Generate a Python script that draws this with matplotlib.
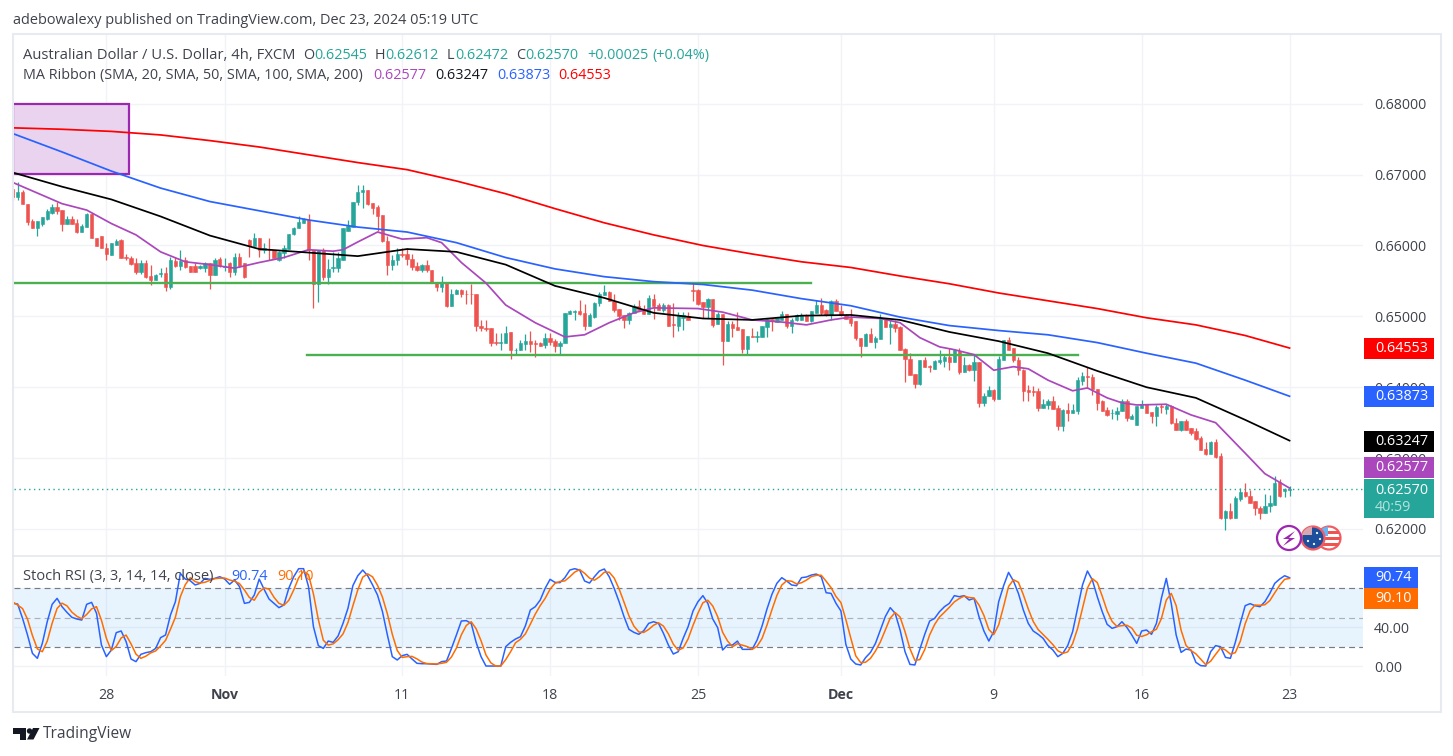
import matplotlib
matplotlib.use("Agg")
import matplotlib.pyplot as plt
from matplotlib.patches import Circle, Polygon, Rectangle

plt.rcParams['font.family'] = ['Open Sans', 'DejaVu Sans']

# 4h candles, oldest first
opens = [
    .6680, .6669, .6676, .6658, .6635, .6625, .6631, .6638, .6646, .6654,
    .6650, .6630, .6638, .6632, .6619, .6626, .6645, .6611, .6613, .6597,
    .6586, .6601, .6608, .6584, .6582, .6575, .6562, .6575, .6557, .6552,
    .6560, .6561, .6542, .6578, .6571, .6579, .6571, .6571, .6568, .6568,
    .6575, .6559, .6581, .6569, .6575, .6563, .6584, .6575, .6608, .6599,
    .6611, .6593, .6594, .6593, .6580, .6590, .6595, .6616, .6624, .6632,
    .6636, .6593, .6546, .6594, .6556, .6568, .6568, .6580, .6621, .6626,
    .6661, .6675, .6678, .6660, .6654, .6643, .6607, .6573, .6579, .6588,
    .6588, .6581, .6571, .6566, .6573, .6566, .6549, .6541, .6549, .6514,
    .6531, .6537, .6532, .6532, .6532, .6487, .6483, .6483, .6464, .6463,
    .6463, .6478, .6452, .6452, .6461, .6465, .6462, .6462, .6459, .6470,
    .6465, .6458, .6463, .6503, .6506, .6507, .6505, .6487, .6499, .6519,
    .6530, .6535, .6521, .6510, .6502, .6495, .6505, .6514, .6510, .6504,
    .6525, .6516, .6509, .6516, .6489, .6486, .6498, .6500, .6537, .6537,
    .6520, .6513, .6524, .6489, .6504, .6465, .6489, .6485, .6482, .6454,
    .6473, .6471, .6471, .6485, .6496, .6492, .6495, .6503, .6487, .6495,
    .6495, .6502, .6494, .6505, .6516, .6509, .6502, .6521, .6508, .6502,
    .6498, .6493, .6470, .6458, .6475, .6464, .6468, .6496, .6485, .6489,
    .6485, .6454, .6440, .6418, .6405, .6438, .6430, .6426, .6436, .6437,
    .6443, .6436, .6451, .6422, .6432, .6425, .6435, .6378, .6387, .6396,
    .6383, .6439, .6466, .6455, .6439, .6425, .6396, .6394, .6394, .6371,
    .6375, .6381, .6371, .6346, .6368, .6363, .6367, .6409, .6416, .6414,
    .6398, .6380, .6368, .6363, .6362, .6366, .6381, .6355, .6347, .6371,
    .6376, .6365, .6359, .6373, .6370, .6374, .6350, .6340, .6352, .6342,
    .6338, .6329, .6313, .6306, .6323, .6303, .6215, .6225, .6215, .6242,
    .6252, .6247, .6239, .6230, .6222, .6232, .6234, .6266, .6254, .62545,
]
highs = [
    .6680, .6690, .6678, .6658, .6637, .6635, .6640, .6651, .6659, .6662,
    .6650, .6641, .6641, .6638, .6630, .6646, .6646, .6611, .6614, .6603,
    .6604, .6609, .6609, .6588, .6585, .6582, .6579, .6580, .6572, .6560,
    .6568, .6570, .6584, .6584, .6594, .6584, .6571, .6576, .6573, .6577,
    .6576, .6582, .6584, .6583, .6577, .6590, .6589, .6576, .6609, .6618,
    .6611, .6604, .6610, .6594, .6592, .6601, .6616, .6626, .6641, .6639,
    .6644, .6594, .6594, .6597, .6581, .6591, .6591, .6625, .6636, .6662,
    .6686, .6686, .6679, .6660, .6657, .6643, .6614, .6586, .6597, .6596,
    .6596, .6588, .6577, .6574, .6580, .6566, .6549, .6557, .6549, .6539,
    .6538, .6539, .6537, .6546, .6532, .6495, .6495, .6483, .6477, .6477,
    .6487, .6478, .6455, .6467, .6475, .6480, .6467, .6464, .6477, .6476,
    .6468, .6465, .6505, .6509, .6509, .6523, .6517, .6505, .6520, .6534,
    .6544, .6536, .6532, .6510, .6502, .6506, .6518, .6523, .6516, .6530,
    .6531, .6519, .6519, .6518, .6519, .6506, .6506, .6506, .6549, .6538,
    .6520, .6526, .6524, .6506, .6504, .6494, .6494, .6506, .6482, .6473,
    .6483, .6480, .6487, .6497, .6497, .6498, .6508, .6504, .6497, .6504,
    .6505, .6503, .6508, .6523, .6526, .6510, .6523, .6525, .6516, .6504,
    .6510, .6493, .6470, .6476, .6483, .6472, .6504, .6497, .6495, .6495,
    .6486, .6456, .6448, .6418, .6439, .6442, .6431, .6438, .6452, .6447,
    .6455, .6453, .6455, .6442, .6433, .6446, .6436, .6392, .6402, .6397,
    .6444, .6467, .6471, .6455, .6442, .6426, .6403, .6402, .6399, .6383,
    .6383, .6388, .6375, .6369, .6378, .6376, .6414, .6421, .6428, .6418,
    .6398, .6382, .6372, .6369, .6372, .6383, .6383, .6362, .6374, .6382,
    .6377, .6365, .6375, .6377, .6377, .6375, .6356, .6353, .6355, .6342,
    .6342, .6331, .6323, .6324, .6327, .6307, .6227, .6236, .6246, .6258,
    .6265, .6255, .6239, .6232, .6250, .6248, .6275, .6271, .6258, .62612,
]
lows = [
    .6664, .6664, .6658, .6629, .6625, .6613, .6628, .6636, .6645, .6645,
    .6621, .6630, .6630, .6618, .6619, .6626, .6611, .6599, .6597, .6579,
    .6586, .6601, .6583, .6579, .6572, .6560, .6560, .6554, .6544, .6552,
    .6555, .6536, .6539, .6570, .6566, .6568, .6563, .6563, .6567, .6563,
    .6539, .6559, .6570, .6564, .6556, .6558, .6570, .6554, .6584, .6599,
    .6584, .6589, .6579, .6583, .6578, .6582, .6595, .6615, .6624, .6632,
    .6579, .6512, .6520, .6551, .6546, .6563, .6563, .6580, .6621, .6626,
    .6657, .6653, .6657, .6644, .6621, .6605, .6558, .6566, .6572, .6584,
    .6573, .6565, .6564, .6563, .6563, .6549, .6536, .6534, .6513, .6514,
    .6531, .6528, .6517, .6517, .6479, .6480, .6479, .6458, .6459, .6452,
    .6463, .6440, .6445, .6452, .6453, .6450, .6443, .6458, .6455, .6459,
    .6450, .6447, .6463, .6503, .6495, .6502, .6481, .6487, .6497, .6514,
    .6530, .6521, .6506, .6495, .6484, .6489, .6505, .6507, .6504, .6504,
    .6496, .6509, .6506, .6487, .6471, .6480, .6481, .6495, .6522, .6516,
    .6498, .6497, .6485, .6489, .6432, .6465, .6471, .6481, .6449, .6447,
    .6471, .6464, .6471, .6471, .6479, .6492, .6495, .6484, .6477, .6494,
    .6495, .6494, .6492, .6505, .6502, .6500, .6495, .6507, .6501, .6496,
    .6487, .6467, .6443, .6458, .6464, .6455, .6468, .6485, .6461, .6478,
    .6452, .6408, .6417, .6399, .6403, .6429, .6422, .6426, .6433, .6428,
    .6424, .6436, .6419, .6422, .6423, .6409, .6372, .6374, .6387, .6380,
    .6383, .6439, .6453, .6435, .6417, .6380, .6381, .6387, .6366, .6371,
    .6369, .6369, .6340, .6338, .6352, .6363, .6362, .6403, .6399, .6389,
    .6368, .6367, .6359, .6355, .6354, .6366, .6352, .6355, .6347, .6371,
    .6364, .6350, .6346, .6364, .6362, .6348, .6340, .6338, .6340, .6333,
    .6326, .6311, .6305, .6306, .6300, .6214, .6199, .6214, .6215, .6240,
    .6245, .6237, .6220, .6214, .6222, .6224, .6234, .6245, .6245, .62472,
]
closes = [
    .6669, .6676, .6658, .6633, .6625, .6635, .6640, .6648, .6654, .6649,
    .6630, .6638, .6631, .6619, .6628, .6644, .6611, .6599, .6597, .6588,
    .6604, .6607, .6583, .6583, .6574, .6562, .6575, .6556, .6551, .6559,
    .6561, .6542, .6579, .6571, .6578, .6570, .6563, .6563, .6571, .6575,
    .6559, .6580, .6571, .6571, .6563, .6584, .6571, .6556, .6599, .6610,
    .6593, .6596, .6593, .6583, .6591, .6596, .6616, .6625, .6633, .6637,
    .6593, .6545, .6593, .6556, .6567, .6570, .6582, .6624, .6628, .6662,
    .6676, .6678, .6658, .6653, .6641, .6606, .6573, .6579, .6588, .6587,
    .6581, .6570, .6566, .6573, .6566, .6549, .6541, .6549, .6514, .6531,
    .6537, .6531, .6531, .6531, .6487, .6483, .6482, .6463, .6463, .6464,
    .6477, .6452, .6453, .6462, .6465, .6461, .6461, .6458, .6470, .6464,
    .6458, .6463, .6505, .6507, .6507, .6504, .6487, .6502, .6519, .6532,
    .6534, .6521, .6509, .6500, .6495, .6505, .6514, .6509, .6504, .6526,
    .6515, .6509, .6516, .6487, .6488, .6502, .6502, .6495, .6536, .6518,
    .6513, .6524, .6488, .6503, .6465, .6489, .6483, .6481, .6454, .6473,
    .6471, .6472, .6486, .6496, .6493, .6497, .6503, .6487, .6495, .6502,
    .6502, .6494, .6507, .6516, .6505, .6502, .6521, .6508, .6502, .6496,
    .6491, .6469, .6458, .6475, .6464, .6470, .6496, .6485, .6489, .6483,
    .6453, .6440, .6417, .6405, .6438, .6429, .6429, .6437, .6438, .6443,
    .6436, .6452, .6422, .6432, .6425, .6435, .6378, .6388, .6396, .6384,
    .6440, .6466, .6453, .6438, .6424, .6395, .6393, .6393, .6371, .6377,
    .6381, .6369, .6346, .6368, .6364, .6368, .6410, .6416, .6414, .6397,
    .6378, .6367, .6361, .6364, .6367, .6381, .6356, .6360, .6373, .6376,
    .6364, .6359, .6372, .6372, .6374, .6349, .6340, .6352, .6340, .6336,
    .6327, .6312, .6306, .6323, .6301, .6215, .6225, .6215, .6244, .6252,
    .6246, .6237, .6229, .6223, .6233, .6236, .6265, .6246, .6257, .62570,
]

ma_bars = [0, 10, 20, 30, 40, 50, 60, 70, 80, 90, 100, 110, 120, 130, 140, 150, 160,
           170, 180, 190, 200, 210, 220, 230, 240, 250, 259]
ma200 = [.6766, .6764, .6761, .6756, .6748, .6739, .6728, .6717, .6707, .6691, .6673, .6652, .6632,
         .6615, .6600, .6588, .6577, .6569, .6557, .6546, .6533, .6522, .6511, .6498, .6488, .6473, .64553]
ma100 = [.6758, .6732, .6705, .6681, .6662, .6649, .6636, .6626, .6619, .6604, .6583, .6567, .6556,
         .6549, .6545, .6537, .6525, .6515, .6499, .6487, .6480, .6474, .6463, .6448, .6434, .6410, .63873]
ma50 = [.6703, .6683, .6665, .6641, .6614, .6595, .6590, .6585, .6595, .6591, .6573, .6543, .6526,
        .6505, .6497, .6495, .6501, .6502, .6495, .6478, .6465, .6448, .6423, .6400, .6385, .6354, .63247]
ma20_bars = [0, 5, 10, 15, 20, 25, 30, 35, 40, 45, 50, 55, 60, 65, 67, 70, 74, 79, 84, 87, 91, 96,
             100, 106, 112, 116, 121, 126, 130, 139, 144, 150, 156, 161, 166, 170, 176, 180, 184,
             188, 191, 195, 199, 203, 206, 210, 215, 218, 222, 225, 228, 234, 239, 244, 250, 254, 259]
ma20 = [.6689, .6674, .6659, .6650, .6631, .6615, .6591, .6577, .6573, .6568, .6576, .6583, .6594,
        .6592, .6594, .6605, .6619, .6609, .6611, .6604, .6576, .6547, .6516, .6491, .6471, .6474,
        .6491, .6505, .6512, .6511, .6506, .6495, .6492, .6488, .6495, .6499, .6497, .6491, .6470,
        .6457, .6453, .6446, .6424, .6429, .6426, .6410, .6395, .6399, .6385, .6378, .6375, .6376,
        .6361, .6350, .6307, .6278, .62577]

stoch_k = [
    64.5, 63.8, 49.1, 32.1, 13.3, 8.2, 23.5, 45.7, 63.5, 69.6,
    61.1, 55.3, 50.2, 48.5, 47.4, 63.5, 65.5, 54.3, 21.8, 9.9,
    16.7, 34.5, 36.2, 25.3, 7.5, 4.8, 12.3, 14.0, 15.0, 18.4,
    29.4, 32.1, 52.6, 66.2, 95.2, 89.4, 87.7, 83.3, 85.0, 90.1,
    89.1, 90.1, 91.8, 89.4, 84.0, 88.4, 81.6, 64.5, 65.5, 73.0,
    89.4, 78.8, 68.9, 64.5, 60.1, 62.8, 79.9, 91.8, 100, 100,
    81.6, 40.6, 21.2, 18.4, 25.9, 24.6, 31.1, 44.0, 59.4, 82.6,
    92.8, 98.6, 92.8, 83.3, 73.0, 56.0, 32.1, 9.9, 6.5, 10.9,
    12.3, 7.5, 3.1, 2.7, 2.7, 2.4, 2.0, 4.8, 5.5, 18.4,
    32.1, 46.4, 46.8, 44.0, 24.6, 9.9, 0.3, 0.3, 0.3, 0.3,
    20.1, 24.6, 28.0, 30.4, 41.6, 57.7, 61.1, 67.9, 79.9, 89.1,
    86.0, 85.7, 90.8, 98.6, 100, 98.6, 87.4, 85.3, 91.8, 97.6,
    99.7, 91.8, 79.9, 66.2, 50.9, 37.9, 34.8, 32.8, 36.5, 44.0,
    45.7, 44.0, 33.8, 21.8, 12.6, 15.0, 28.7, 40.6, 56.7, 66.2,
    72.4, 64.5, 48.5, 39.6, 16.7, 21.8, 21.8, 25.9, 17.4, 17.4,
    17.4, 27.0, 41.3, 58.7, 73.7, 85.0, 90.8, 87.4, 83.3, 82.6,
    90.8, 91.5, 93.5, 94.5, 91.8, 75.4, 74.7, 64.5, 56.7, 22.5,
    7.5, 2.4, 1.4, 8.9, 14.3, 23.5, 37.2, 50.9, 60.1, 54.3,
    37.2, 15.0, 2.0, 1.4, 17.4, 32.8, 46.4, 49.1, 56.0, 61.1,
    64.5, 72.4, 71.3, 72.4, 67.9, 69.6, 50.9, 36.2, 25.9, 35.5,
    66.2, 82.6, 96.2, 87.4, 74.7, 57.7, 44.0, 36.2, 32.8, 28.7,
    21.2, 16.7, 9.9, 13.3, 21.2, 35.5, 59.4, 83.3, 97.6, 88.4,
    71.3, 56.0, 43.0, 38.9, 40.6, 45.7, 39.9, 32.1, 23.5, 36.2,
    37.2, 32.8, 44.0, 69.6, 90.1, 64.5, 32.1, 14.3, 17.7, 16.7,
    4.1, 0.7, 0.3, 15.0, 21.2, 20.1, 9.2, 8.2, 24.6, 44.0,
    62.1, 64.2, 62.1, 61.1, 66.2, 74.7, 85.0, 89.4, 92.8, 90.74,
]
stoch_d = [
    66.0, 62.8, 59.1, 48.3, 31.5, 17.9, 15.0, 25.8, 44.2, 59.3,
    64.7, 62.0, 55.5, 51.3, 48.7, 53.1, 58.8, 61.1, 47.2, 28.7,
    16.1, 20.4, 29.1, 32.0, 23.0, 12.5, 8.2, 10.4, 13.8, 15.8,
    20.9, 26.6, 38.0, 50.3, 71.3, 83.6, 90.8, 86.8, 85.3, 86.1,
    88.1, 89.8, 90.3, 90.4, 88.4, 87.3, 84.7, 78.2, 70.5, 67.7,
    76.0, 80.4, 79.0, 70.7, 64.5, 62.5, 67.6, 78.2, 90.6, 97.3,
    93.9, 74.1, 47.8, 26.7, 21.8, 23.0, 27.2, 33.2, 44.8, 62.0,
    78.3, 91.3, 94.7, 91.6, 83.0, 70.8, 53.7, 32.7, 16.2, 9.1,
    9.9, 10.2, 7.6, 4.4, 2.8, 2.6, 2.4, 3.1, 4.1, 9.6,
    18.7, 32.3, 41.8, 45.7, 38.5, 26.2, 11.6, 3.5, 0.3, 0.3,
    6.9, 15.0, 24.2, 27.7, 33.3, 43.2, 53.5, 62.2, 69.6, 79.0,
    85.0, 86.9, 87.5, 91.7, 96.5, 99.1, 95.3, 90.4, 88.2, 91.6,
    96.4, 96.4, 90.5, 79.3, 65.7, 51.7, 41.2, 35.2, 34.7, 37.8,
    42.1, 44.6, 41.2, 33.2, 22.7, 16.5, 18.8, 28.1, 42.0, 54.5,
    65.1, 67.7, 61.8, 50.9, 34.9, 26.0, 20.1, 23.2, 21.7, 20.2,
    17.4, 20.6, 28.6, 42.3, 57.9, 72.5, 83.2, 87.7, 87.2, 84.4,
    85.6, 88.3, 91.9, 93.2, 93.3, 87.2, 80.6, 71.5, 65.3, 47.9,
    28.9, 10.8, 3.8, 4.2, 8.2, 15.6, 25.0, 37.2, 49.4, 55.1,
    50.5, 35.5, 18.1, 6.1, 6.9, 17.2, 32.2, 42.8, 50.5, 55.4,
    60.5, 66.0, 69.4, 72.0, 70.5, 70.0, 62.8, 52.2, 37.7, 32.5,
    42.5, 61.4, 81.7, 88.7, 86.1, 73.3, 58.8, 46.0, 37.7, 32.6,
    27.6, 22.2, 15.9, 13.3, 14.8, 23.3, 38.7, 59.4, 80.1, 89.8,
    85.8, 71.9, 56.8, 46.0, 40.8, 41.7, 42.1, 39.2, 31.8, 30.6,
    32.3, 35.4, 38.0, 48.8, 67.9, 74.7, 62.2, 37.0, 21.4, 16.2,
    12.8, 7.2, 1.7, 5.3, 12.2, 18.8, 16.8, 12.5, 14.0, 25.6,
    43.6, 56.8, 62.8, 62.5, 63.1, 67.3, 75.3, 83.0, 89.1, 90.10,
]

price_ticks = [.62, .63, .64, .65, .66, .67, .68]
stoch_ticks = [0, 40]
date_bars = [19, 43, 79, 109, 139, 168, 199, 229, 259]
date_labels = ['28', 'Nov', '11', '18', '25', 'Dec', '9', '16', '23']

support_upper = .6547
support_lower = .6445
last_close = .62570

W, H = 1453, 756
UP, DOWN = '#26a69a', '#ef5350'
GRID = '#f1f3f8'
TEXT = '#3f424c'


def pane(left, right, top, bottom):
    return fig.add_axes([left / W, 1 - bottom / H, (right - left) / W, (bottom - top) / H])


fig = plt.figure(figsize=(W / 100, H / 100), dpi=100, facecolor='white')
ax = pane(14, 1363, 35, 555)
ax2 = pane(14, 1363, 556, 676)

for a in (ax, ax2):
    a.set_xlim(0.26, 273.9)
    for s in a.spines.values():
        s.set_visible(False)
    a.set_xticks(date_bars)
    a.grid(True, color=GRID, lw=1)
    a.set_axisbelow(True)
    a.yaxis.tick_right()
    a.tick_params(length=0, labelsize=10.2, labelcolor=TEXT, pad=7.9)

# candles
ax.set_ylim(.61633, .6897)
ax.set_yticks(price_ticks)
ax.set_yticklabels(['%.5f' % p for p in price_ticks])
ax.tick_params(axis='x', labelbottom=False)

bars = list(range(len(closes)))
colors = [UP if c >= o else DOWN for o, c in zip(opens, closes)]
ax.vlines(bars, lows, highs, colors=colors, lw=0.9, zorder=2)
ax.bar(bars, [abs(c - o) for o, c in zip(opens, closes)], bottom=[min(o, c) for o, c in zip(opens, closes)],
       width=0.68, color=colors, edgecolor=colors, lw=0.4, zorder=3)

# drawings
ax.add_patch(Rectangle((0, .6701), 23.5, .0098, fc='#e9d3ef', ec='#9c27b0', lw=1.6, zorder=1))
ax.plot([0, 161.9], [support_upper, support_upper], color='#4caf50', lw=1.7, zorder=4)
ax.plot([59.7, 216.1], [support_lower, support_lower], color='#4caf50', lw=1.7, zorder=4)
ax.axhline(last_close, color=UP, lw=1, ls=(0, (1, 2.5)), zorder=2)

ax.plot(ma20_bars, ma20, color='#ab47bc', lw=1.25, zorder=5)
ax.plot(ma_bars, ma50, color='black', lw=1.25, zorder=5)
ax.plot(ma_bars, ma100, color='#2962ff', lw=1.25, zorder=5)
ax.plot(ma_bars, ma200, color='#ff0000', lw=1.25, zorder=5)

# stoch rsi pane
ax2.set_ylim(-9.9, 113)
ax2.set_yticks(stoch_ticks)
ax2.set_yticklabels(['%.2f' % v for v in stoch_ticks])
ax2.set_xticklabels(date_labels)
for lab in ax2.get_xticklabels():
    if lab.get_text() in ('Nov', 'Dec'):
        lab.set_fontweight('bold')
ax2.tick_params(axis='x', pad=8.5)
ax2.axhspan(20, 80, color='#2196f3', alpha=.1, lw=0, zorder=1)
ax2.axhline(80, color='#787b86', lw=.85, ls=(0, (5, 3.5)), zorder=2)
ax2.axhline(20, color='#787b86', lw=.85, ls=(0, (5, 3.5)), zorder=2)
ax2.axhline(50, color='#787b86', lw=.85, ls=(0, (5, 3.5)), alpha=.55, zorder=2)
ax2.plot(bars, stoch_k, color='#2962ff', lw=1.1, zorder=3)
ax2.plot(bars, stoch_d, color='#ff6d00', lw=1.1, zorder=4)

# everything around the panes, in image pixels
over = fig.add_axes([0, 0, 1, 1], facecolor='none')
over.set_xlim(0, W)
over.set_ylim(H, 0)
over.axis('off')

over.add_patch(Rectangle((13, 34), 1428, 678, fc='none', ec='#e8eaf1', lw=1.5))
over.plot([13, 1441], [555.5, 555.5], color='#e4e7ee', lw=1.2)


def txt(x, y, s, color=TEXT, size=10.4, **kw):
    over.text(x, y + 1.5, s, color=color, fontsize=size, va='center', ha='left', **kw)


txt(13, 19, 'adebowalexy published on TradingView.com, Dec 23, 2024 05:19 UTC', size=10.45)
txt(23, 54, 'Australian Dollar / U.S. Dollar, 4h, FXCM', size=10.6)
for x, vx, lab, val in [(303, 314, 'O', '0.62545'), (375, 385, 'H', '0.62612'),
                        (447, 455, 'L', '0.62472'), (516, 525, 'C', '0.62570')]:
    txt(x, 54, lab)
    txt(vx, 54, val, color=UP)
txt(587, 54, '+0.00025', color=UP)
txt(652.5, 54, '(+0.04%)', color=UP)

txt(23, 74, 'MA Ribbon (SMA, 20, SMA, 50, SMA, 100, SMA, 200)')
for x, val, c in [(373, '0.62577', '#ab47bc'), (435, '0.63247', '#131722'),
                  (497, '0.63873', '#2962ff'), (558, '0.64553', '#ff0000')]:
    txt(x, 74, val, color=c)

txt(23, 575, 'Stoch RSI (3, 3, 14, 14, close)', size=10.5)
txt(231, 575, '90.74', color='#2962ff')
txt(277, 575, '90.10', color='#ff6d00')

# price tags
for top, bot, val, c in [(338, 359, '0.64553', '#ff0000'), (386, 407, '0.63873', '#2962ff'),
                         (431, 452, '0.63247', '#000000'), (457, 478, '0.62577', '#ab47bc')]:
    over.add_patch(Rectangle((1364, top), 70, bot - top, fc=c, ec='none'))
    txt(1375, (top + bot) / 2 - 1.5, val, color='white')
over.add_patch(Rectangle((1364, 479), 70, 39, fc=UP, ec='none'))
txt(1375, 489, '0.62570', color='white')
txt(1375, 506, '40:59', color='#b4e2dd')

over.add_patch(Rectangle((1364, 567), 54, 21, fc='#2962ff', ec='none'))
txt(1375, 576, '90.74', color='white')
over.add_patch(Rectangle((1364, 588), 54, 21, fc='#ff6d00', ec='none'))
txt(1375, 597, '90.10', color='white')

# event badges
us = Circle((1329, 538), 11.5, fc='white', ec='#f05d64', lw=1.6, zorder=5)
over.add_patch(us)
for y in (531, 537, 543):
    over.add_patch(Rectangle((1317, y), 24, 3, fc='#ef5350', ec='none', zorder=5, clip_path=us))
over.add_patch(Rectangle((1317, 526), 11, 10, fc='#64b5f6', ec='none', zorder=5, clip_path=us))
au = Circle((1313, 538), 11.5, fc='#1d4f9c', ec='#f05d64', lw=1.6, zorder=6)
over.add_patch(au)
over.add_patch(Rectangle((1301, 526), 11, 9, fc='#d9a7b0', ec='none', zorder=6, clip_path=au))
for x, y in [(1317, 533), (1320, 539), (1314, 544), (1308, 541)]:
    over.add_patch(Circle((x, y), 1.1, fc='white', ec='none', zorder=6))
over.add_patch(Circle((1289, 538), 12, fc='white', ec='#9c27b0', lw=1.6, zorder=7))
over.add_patch(Polygon([(1295, 531), (1283, 539), (1289, 539), (1283, 546), (1295, 538), (1289, 538)],
                       fc='#9c27b0', ec='none', zorder=7))

# logo
over.add_patch(Polygon([(13, 728), (26, 728), (26, 739.5), (19.5, 739.5), (19.5, 734), (13, 734)],
                       fc='#131722', ec='none'))
over.add_patch(Circle((29.5, 731), 2.7, fc='#131722', ec='none'))
over.add_patch(Polygon([(33, 728), (39.5, 728), (33.5, 739.5), (27, 739.5)], fc='#131722', ec='none'))
txt(43, 733, 'TradingView', color='#3f424c', size=11.2)

fig.savefig('out.png', dpi=100)
